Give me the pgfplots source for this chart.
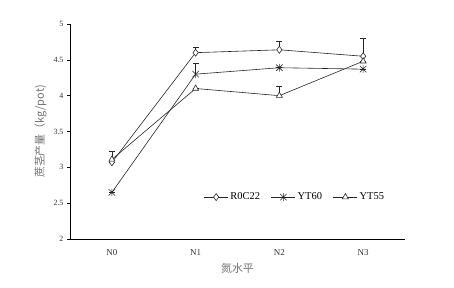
\documentclass[border=0pt]{standalone}
\usepackage{pgfplots}
\pgfplotsset{compat=1.18}
\usepackage{fontspec}
\setmainfont{Liberation Serif}
\newfontfamily\cjk{Noto Sans CJK SC}
\pgfdeclareplotmark{xstar}{%
  \pgfpathmoveto{\pgfqpoint{-\pgfplotmarksize}{-\pgfplotmarksize}}%
  \pgfpathlineto{\pgfqpoint{\pgfplotmarksize}{\pgfplotmarksize}}%
  \pgfpathmoveto{\pgfqpoint{-\pgfplotmarksize}{\pgfplotmarksize}}%
  \pgfpathlineto{\pgfqpoint{\pgfplotmarksize}{-\pgfplotmarksize}}%
  \pgfpathmoveto{\pgfqpoint{0pt}{-1.2\pgfplotmarksize}}%
  \pgfpathlineto{\pgfqpoint{0pt}{1.2\pgfplotmarksize}}%
  \pgfusepathqstroke}
\begin{document}
\begin{tikzpicture}
\begin{axis}[
  scale only axis, width=335bp, height=215bp,
  xmin=-0.5, xmax=3.5, ymin=2, ymax=5,
  axis x line=bottom, axis y line=left,
  axis line style={-, black, line width=0.8pt},
  xtick={0,1,2,3}, xticklabels={N0,N1,N2,N3},
  major x tick style={draw=none},
  extra x ticks={0.5,1.5,2.5}, extra x tick labels={},
  extra x tick style={tick style={draw=black, line width=0.6pt}, major tick length=4bp, tick align=inside},
  ytick={2,2.5,3,3.5,4,4.5,5},
  yticklabels={2,2.5,3,3.5,4,4.5,5},
  y tick style={draw=black, line width=0.6pt}, tick align=outside, major tick length=3bp,
  tick label style={font=\fontsize{8}{9}\selectfont, text=black!80},
  x tick label style={font=\fontsize{9}{10}\selectfont, yshift=-4bp},
  xlabel={\cjk 氮水平}, ylabel={\cjk 蔗茎产量（kg/pot)},
  label style={font=\fontsize{11}{12}\selectfont, text=black!55},
  xlabel style={yshift=2bp},
  ylabel style={yshift=0bp},
  legend style={draw=none, fill=none, at={(rel axis cs:0.39,0.195)}, anchor=west,
    font=\fontsize{10.5}{11}\selectfont, legend columns=3,
    /tikz/every even column/.append style={column sep=9bp}},
  legend image code/.code={%
    \draw[mark repeat=2,mark phase=2,#1] plot coordinates {(0bp,0bp) (12bp,0bp) (24bp,0bp)};},
  error bars/error bar style={line width=0.6pt, black!85},
  error bars/error mark options={mark size=3bp, rotate=90, line width=0.6pt, black!85},
]
\addplot[black!85, line width=0.6pt, mark=diamond*, mark size=3.5bp, mark options={fill=white, solid},
  error bars/.cd, y dir=plus, y explicit]
  coordinates {(0,3.07) +- (0,0.0) (1,4.60) +- (0,0.07) (2,4.64) +- (0,0.12) (3,4.55) +- (0,0.25)};
\addlegendentry{R0C22}
\addplot[black!85, line width=0.6pt, mark=xstar, mark size=3.2bp, mark options={solid},
  error bars/.cd, y dir=plus, y explicit]
  coordinates {(0,2.65) +- (0,0.0) (1,4.30) +- (0,0.15) (2,4.39) +- (0,0.0) (3,4.37) +- (0,0.0)};
\addlegendentry{YT60}
\addplot[black!85, line width=0.6pt, mark=triangle*, mark size=3.5bp, mark options={fill=white, solid},
  error bars/.cd, y dir=plus, y explicit]
  coordinates {(0,3.11) +- (0,0.12) (1,4.10) +- (0,0.0) (2,4.00) +- (0,0.13) (3,4.48) +- (0,0.0)};
\addlegendentry{YT55}
\end{axis}
\path[use as bounding box] ([shift={(-70bp,-49bp)}]current axis.south west) rectangle ([shift={(49bp,24bp)}]current axis.north east);
\end{tikzpicture}
\end{document}
